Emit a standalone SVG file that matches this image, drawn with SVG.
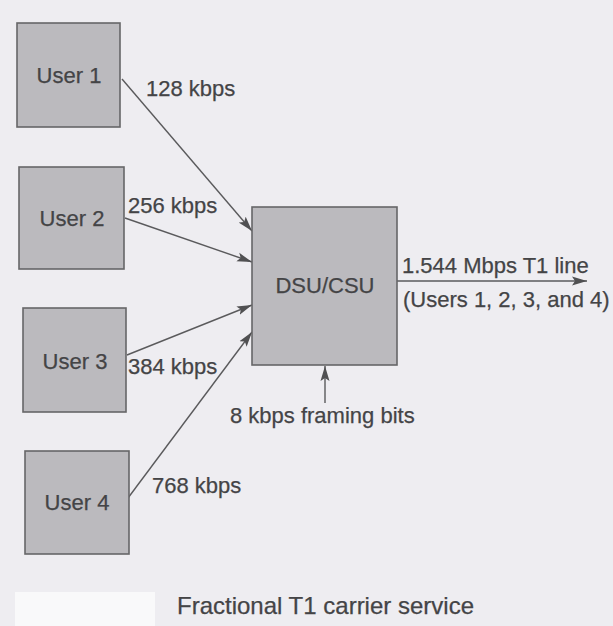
<svg xmlns="http://www.w3.org/2000/svg" width="613" height="626" viewBox="0 0 613 626">
<style>
.box{fill:#bbbabe;stroke:#666668;stroke-width:1.6}
.t{font-family:"Liberation Sans",Arial,sans-serif;font-size:22px;fill:#444446;stroke:#444446;stroke-width:0.25}
.c{text-anchor:middle}
.ln{stroke:#5a5a5c;stroke-width:1.4;fill:none;marker-end:url(#ah)}
</style>
<defs>
<marker id="ah" markerUnits="userSpaceOnUse" markerWidth="16" markerHeight="10" refX="15" refY="5" orient="auto">
<path d="M0,0.5 L15,5 L0,9.5 L3,5 z" fill="#505052"/>
</marker>
</defs>
<rect width="613" height="626" fill="#eeedf1"/>
<rect x="15" y="592" width="140" height="34" fill="#f9f9fa"/>
<g id="connectors">
<line class="ln" x1="122" y1="79" x2="252" y2="231"/>
<line class="ln" x1="125" y1="218" x2="252" y2="262"/>
<line class="ln" x1="127" y1="355" x2="252" y2="305"/>
<line class="ln" x1="128" y1="498" x2="252" y2="332"/>
<line class="ln" x1="397" y1="281" x2="587" y2="281"/>
<line class="ln" x1="325" y1="403" x2="325" y2="366"/>
</g>
<g id="user1"><rect class="box" x="17" y="23" width="103" height="104"/><text class="t c" x="69" y="83">User 1</text></g>
<g id="user2"><rect class="box" x="19" y="167" width="105" height="102"/><text class="t c" x="72" y="226">User 2</text></g>
<g id="user3"><rect class="box" x="23" y="308" width="103" height="104"/><text class="t c" x="75" y="369">User 3</text></g>
<g id="user4"><rect class="box" x="25" y="451" width="104" height="103"/><text class="t c" x="77" y="510">User 4</text></g>
<g id="dsucsu"><rect class="box" x="252" y="207" width="145" height="158"/><text class="t c" x="325" y="293">DSU/CSU</text></g>
<g id="labels">
<text class="t" x="146" y="96">128 kbps</text>
<text class="t" x="128" y="213">256 kbps</text>
<text class="t" x="128" y="374">384 kbps</text>
<text class="t" x="152" y="493">768 kbps</text>
<text class="t" x="402" y="273">1.544 Mbps T1 line</text>
<text class="t" x="403" y="307">(Users 1, 2, 3, and 4)</text>
<text class="t" x="230" y="423">8 kbps framing bits</text>
<text class="t" x="177" y="614" style="font-size:24px">Fractional T1 carrier service</text>
</g>
</svg>
